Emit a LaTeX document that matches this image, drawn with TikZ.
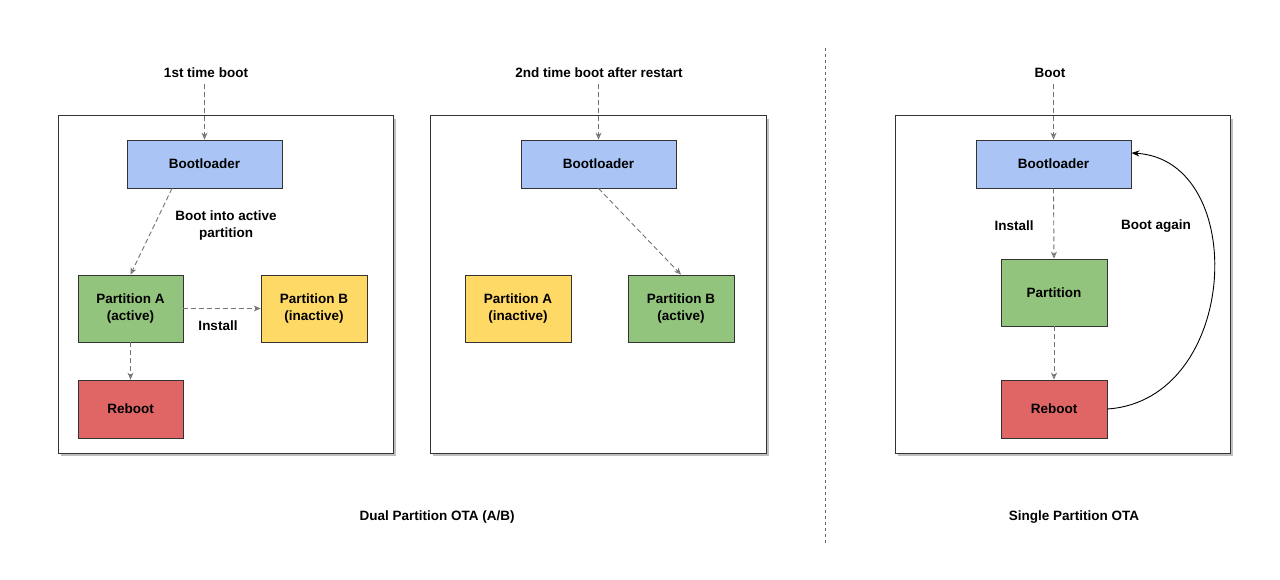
\documentclass[tikz,border=0pt]{standalone}
\usepackage{fontspec}
\setmainfont{Liberation Sans}
\usetikzlibrary{arrows.meta,shadows}
\definecolor{cblue}{HTML}{A9C4F5}
\definecolor{cgreen}{HTML}{93C47D}
\definecolor{cyellow}{HTML}{FFD966}
\definecolor{cred}{HTML}{E06666}
\begin{document}
\begin{tikzpicture}[x=1pt,y=-1pt,
  every node/.style={font=\fontsize{13.5}{17}\selectfont\bfseries},
  frame/.style={draw=black!80,line width=1pt,fill=white,drop shadow={shadow xshift=3pt,shadow yshift=-3pt,fill=black!25,opacity=1}},
  box/.style={draw=black!80,line width=0.8pt,inner sep=0pt,align=center},
  da/.style={draw=black!55,dashed,dash pattern=on 5pt off 3pt,line width=0.9pt,-{Stealth[length=7pt,width=6pt,open,fill=white]}}]
\useasboundingbox (0,0) rectangle (1280,580);
\fill[white] (0,0) rectangle (1280,580);
\draw[frame] (58,116) rectangle (393,453);
\draw[frame] (430,116) rectangle (766,453);
\draw[frame] (895,116) rectangle (1230,453);
\draw[black!60,dashed,line width=0.8pt] (825,48) -- (825,545);
% panel 1
\node[box,fill=cblue,minimum width=155pt,minimum height=48pt] (b1) at (204.5,164) {Bootloader};
\node[box,fill=cgreen,minimum width=105pt,minimum height=67pt] (a1) at (130.5,308.5) {Partition A\\(active)};
\node[box,fill=cyellow,minimum width=106pt,minimum height=67pt] (pb1) at (314,308.5) {Partition B\\(inactive)};
\node[box,fill=cred,minimum width=105pt,minimum height=58pt] (r1) at (130.5,409) {Reboot};
\node (t1) at (206,73) {1st time boot};
\coordinate (s1) at (204.5,84);
\draw[da] (s1) -- (b1.north);
\draw[da] (b1.south -| 172,0) -- (a1.north);
\node[align=center] at (226,226) {Boot into active\\partition};
\draw[da] (a1.east) -- (pb1.west);
\node at (218,326) {Install};
\draw[da] (a1.south) -- (r1.north);
% panel 2
\node[box,fill=cblue,minimum width=155pt,minimum height=48pt] (b2) at (598.5,164) {Bootloader};
\node[box,fill=cyellow,minimum width=106pt,minimum height=67pt] (a2) at (518,308.5) {Partition A\\(inactive)};
\node[box,fill=cgreen,minimum width=106pt,minimum height=67pt] (pb2) at (681,308.5) {Partition B\\(active)};
\node (t2) at (599,73) {2nd time boot after restart};
\coordinate (s2) at (598.5,84);
\draw[da] (s2) -- (b2.north);
\draw[da] (b2.south) -- (pb2.north);
% panel 3
\node[box,fill=cblue,minimum width=155pt,minimum height=48pt] (b3) at (1053.5,164) {Bootloader};
\node[box,fill=cgreen,minimum width=106pt,minimum height=67pt] (p3) at (1054,292.5) {Partition};
\node[box,fill=cred,minimum width=106pt,minimum height=58pt] (r3) at (1054,409) {Reboot};
\node (t3) at (1050,73) {Boot};
\coordinate (s3) at (1053.5,84);
\draw[da] (s3) -- (b3.north);
\draw[da] (b3.south) -- (p3.north);
\draw[da] (p3.south) -- (r3.north);
\node at (1014,226) {Install};
\node at (1156,226) {Boot again};
\draw[black,line width=0.9pt,-{Stealth[length=8pt,width=6pt]}] (r3.east) .. controls (1240,400) and (1250,160) .. (b3.east |- 0,153);
% captions
\node at (437,517) {Dual Partition OTA (A/B)};
\node at (1074,517) {Single Partition OTA};
\end{tikzpicture}
\end{document}
